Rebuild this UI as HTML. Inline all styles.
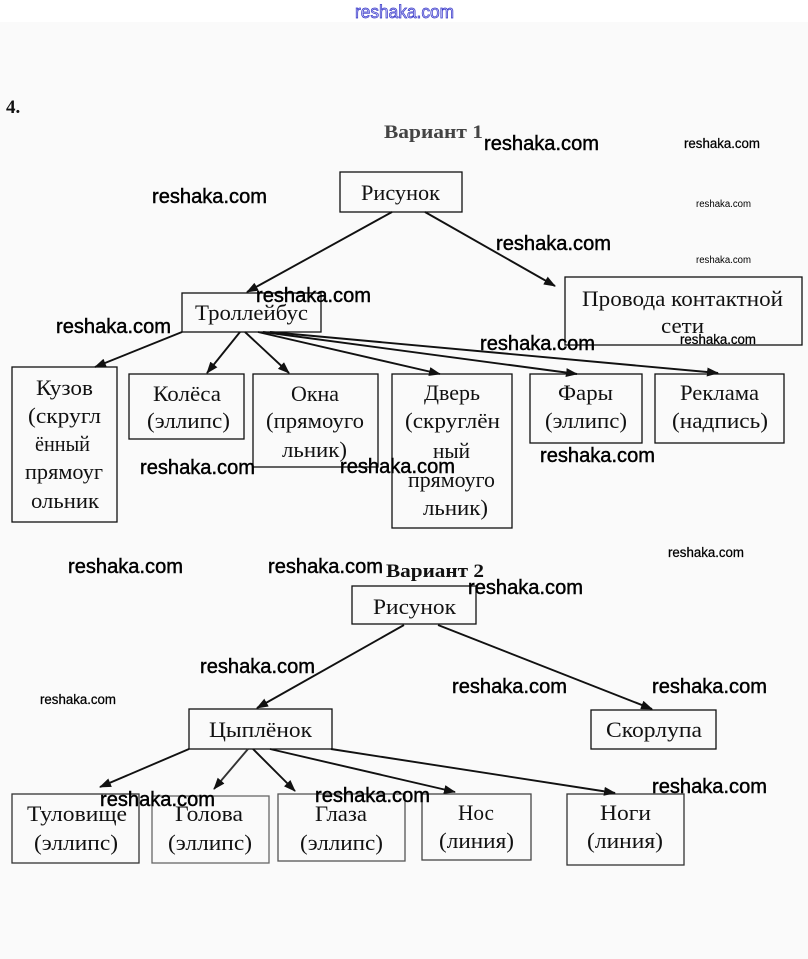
<!DOCTYPE html>
<html>
<head>
<meta charset="utf-8">
<style>
  html,body{margin:0;padding:0;background:#fafafa;}
  svg{display:block;}
  .s{font-family:"Liberation Serif","DejaVu Serif",serif;font-size:22.5px;fill:#111;}
  .w{font-family:"Liberation Sans","DejaVu Sans",sans-serif;font-size:20.5px;fill:#000;stroke:#000;stroke-width:0.45;}
  .ws{font-family:"Liberation Sans","DejaVu Sans",sans-serif;font-size:13.5px;fill:#000;stroke:#000;stroke-width:0.25;}
  .wt{font-family:"Liberation Sans","DejaVu Sans",sans-serif;font-size:10px;fill:#000;}
  .b{fill:none;stroke:#111;stroke-width:1.3;}
  .l{stroke:#111;stroke-width:1.9;fill:none;}
</style>
</head>
<body>
<svg width="808" height="959" viewBox="0 0 808 959" xmlns="http://www.w3.org/2000/svg">
  <defs>
    <marker id="a" markerWidth="12" markerHeight="9" refX="11" refY="4.5" orient="auto" markerUnits="userSpaceOnUse">
      <path d="M0,0 L12,4.5 L0,9 z" fill="#111"/>
    </marker>
  </defs>
  <rect width="808" height="959" fill="#fafafa"/>
  <rect width="808" height="22" fill="#ffffff"/>

  <!-- top blue watermark -->
  <text x="355" y="18" font-family="Liberation Sans, sans-serif" font-size="18" textLength="99" lengthAdjust="spacingAndGlyphs" fill="#c8c8f4" stroke="#3434c8" stroke-width="0.7">reshaka.com</text>

  <text x="6" y="113" font-family="Liberation Serif, serif" font-weight="bold" font-size="19" fill="#111">4.</text>

  <!-- Variant titles -->
  <text x="384" y="138" font-family="Liberation Serif, serif" font-weight="bold" font-size="19" textLength="99" lengthAdjust="spacingAndGlyphs" fill="#444">Вариант 1</text>
  <text x="386" y="577" font-family="Liberation Serif, serif" font-weight="bold" font-size="19" textLength="98" lengthAdjust="spacingAndGlyphs" fill="#111">Вариант 2</text>

  <!-- ===== Variant 1 boxes ===== -->
  <rect class="b" x="340" y="172" width="122" height="40"/>
  <rect class="b" x="182" y="293" width="139" height="39"/>
  <rect class="b" x="565" y="277" width="237" height="68"/>
  <rect class="b" x="12" y="367" width="105" height="155"/>
  <rect class="b" x="129" y="374" width="115" height="65"/>
  <rect class="b" x="253" y="374" width="125" height="93"/>
  <rect class="b" x="392" y="374" width="120" height="154"/>
  <rect class="b" x="530" y="374" width="112" height="69"/>
  <rect class="b" x="655" y="374" width="129" height="69"/>

  <!-- Variant 1 arrows -->
  <line class="l" x1="392" y1="212" x2="247" y2="292" marker-end="url(#a)"/>
  <line class="l" x1="425" y1="212" x2="555" y2="286" marker-end="url(#a)"/>
  <line class="l" x1="182" y1="332" x2="95" y2="367" marker-end="url(#a)"/>
  <line class="l" x1="240" y1="332" x2="207" y2="373" marker-end="url(#a)"/>
  <line class="l" x1="245" y1="332" x2="289" y2="373" marker-end="url(#a)"/>
  <line class="l" x1="258" y1="332" x2="440" y2="374" marker-end="url(#a)"/>
  <line class="l" x1="263" y1="332" x2="577" y2="374" marker-end="url(#a)"/>
  <line class="l" x1="270" y1="332" x2="718" y2="373" marker-end="url(#a)"/>

  <!-- Variant 1 texts -->
  <text class="s" x="361" y="200" textLength="79" lengthAdjust="spacingAndGlyphs" fill="#333">Рисунок</text>
  <text class="s" x="195" y="320" textLength="113" lengthAdjust="spacingAndGlyphs">Троллейбус</text>
  <text class="s" x="582" y="306" textLength="201" lengthAdjust="spacingAndGlyphs">Провода контактной</text>
  <text class="s" x="661" y="333" textLength="43" lengthAdjust="spacingAndGlyphs">сети</text>

  <text class="s" x="36" y="395" textLength="57" lengthAdjust="spacingAndGlyphs" fill="#333">Кузов</text>
  <text class="s" x="28" y="423" textLength="73" lengthAdjust="spacingAndGlyphs" fill="#333">(скругл</text>
  <text class="s" x="35" y="451" textLength="55" lengthAdjust="spacingAndGlyphs" fill="#555">ённый</text>
  <text class="s" x="25" y="479" textLength="78" lengthAdjust="spacingAndGlyphs" fill="#444">прямоуг</text>
  <text class="s" x="31" y="508" textLength="68" lengthAdjust="spacingAndGlyphs" fill="#333">ольник</text>

  <text class="s" x="153" y="401" textLength="68" lengthAdjust="spacingAndGlyphs">Колёса</text>
  <text class="s" x="147" y="428" textLength="83" lengthAdjust="spacingAndGlyphs">(эллипс)</text>

  <text class="s" x="291" y="401" textLength="48" lengthAdjust="spacingAndGlyphs" fill="#333">Окна</text>
  <text class="s" x="266" y="428" textLength="98" lengthAdjust="spacingAndGlyphs" fill="#444">(прямоуго</text>
  <text class="s" x="282" y="457" textLength="65" lengthAdjust="spacingAndGlyphs" fill="#888">льник)</text>

  <text class="s" x="424" y="400" textLength="56" lengthAdjust="spacingAndGlyphs" fill="#333">Дверь</text>
  <text class="s" x="405" y="428" textLength="95" lengthAdjust="spacingAndGlyphs" fill="#333">(скруглён</text>
  <text class="s" x="433" y="458" textLength="37" lengthAdjust="spacingAndGlyphs" fill="#666">ный</text>
  <text class="s" x="408" y="487" textLength="87" lengthAdjust="spacingAndGlyphs" fill="#666">прямоуго</text>
  <text class="s" x="423" y="515" textLength="65" lengthAdjust="spacingAndGlyphs" fill="#666">льник)</text>

  <text class="s" x="558" y="400" textLength="55" lengthAdjust="spacingAndGlyphs" fill="#333">Фары</text>
  <text class="s" x="545" y="428" textLength="82" lengthAdjust="spacingAndGlyphs" fill="#444">(эллипс)</text>

  <text class="s" x="680" y="400" textLength="79" lengthAdjust="spacingAndGlyphs" fill="#333">Реклама</text>
  <text class="s" x="672" y="428" textLength="96" lengthAdjust="spacingAndGlyphs" fill="#333">(надпись)</text>

  <!-- ===== Variant 2 boxes ===== -->
  <rect class="b" x="352" y="586" width="124" height="38"/>
  <rect class="b" x="189" y="709" width="143" height="40"/>
  <rect class="b" x="591" y="710" width="125" height="39"/>
  <rect class="b" x="12" y="794" width="127" height="69" style="stroke:#333"/>
  <rect class="b" x="152" y="796" width="117" height="67" style="stroke:#666"/>
  <rect class="b" x="278" y="794" width="127" height="67" style="stroke:#555"/>
  <rect class="b" x="422" y="794" width="109" height="66" style="stroke:#444"/>
  <rect class="b" x="567" y="794" width="117" height="71" style="stroke:#333"/>

  <!-- Variant 2 arrows -->
  <line class="l" x1="404" y1="625" x2="257" y2="708" marker-end="url(#a)"/>
  <line class="l" x1="438" y1="625" x2="652" y2="709" marker-end="url(#a)"/>
  <line class="l" x1="189" y1="749" x2="100" y2="787" marker-end="url(#a)"/>
  <line class="l" x1="248" y1="749" x2="214" y2="789" marker-end="url(#a)" style="stroke:#333"/>
  <line class="l" x1="253" y1="749" x2="295" y2="791" marker-end="url(#a)"/>
  <line class="l" x1="270" y1="749" x2="455" y2="792" marker-end="url(#a)"/>
  <line class="l" x1="331" y1="749" x2="615" y2="793" marker-end="url(#a)"/>

  <!-- Variant 2 texts -->
  <text class="s" x="373" y="614" textLength="83" lengthAdjust="spacingAndGlyphs">Рисунок</text>
  <text class="s" x="209" y="737" textLength="103" lengthAdjust="spacingAndGlyphs">Цыплёнок</text>
  <text class="s" x="606" y="737" textLength="96" lengthAdjust="spacingAndGlyphs">Скорлупа</text>

  <text class="s" x="27" y="821" textLength="100" lengthAdjust="spacingAndGlyphs" fill="#333">Туловище</text>
  <text class="s" x="34" y="850" textLength="84" lengthAdjust="spacingAndGlyphs" fill="#444">(эллипс)</text>
  <text class="s" x="175" y="821" textLength="68" lengthAdjust="spacingAndGlyphs" fill="#777">Голова</text>
  <text class="s" x="168" y="850" textLength="84" lengthAdjust="spacingAndGlyphs" fill="#777">(эллипс)</text>
  <text class="s" x="315" y="821" textLength="52" lengthAdjust="spacingAndGlyphs" fill="#888">Глаза</text>
  <text class="s" x="300" y="850" textLength="83" lengthAdjust="spacingAndGlyphs" fill="#555">(эллипс)</text>
  <text class="s" x="458" y="820" textLength="36" lengthAdjust="spacingAndGlyphs" fill="#333">Нос</text>
  <text class="s" x="439" y="848" textLength="75" lengthAdjust="spacingAndGlyphs" fill="#666">(линия)</text>
  <text class="s" x="600" y="820" textLength="51" lengthAdjust="spacingAndGlyphs" fill="#333">Ноги</text>
  <text class="s" x="587" y="848" textLength="76" lengthAdjust="spacingAndGlyphs" fill="#777">(линия)</text>

  <!-- ===== watermarks ===== -->
  <text class="w" x="484" y="150" textLength="115" lengthAdjust="spacingAndGlyphs">reshaka.com</text>
  <text class="ws" x="684" y="148" textLength="76" lengthAdjust="spacingAndGlyphs">reshaka.com</text>
  <text class="w" x="152" y="203" textLength="115" lengthAdjust="spacingAndGlyphs">reshaka.com</text>
  <text class="wt" x="696" y="207" textLength="55" lengthAdjust="spacingAndGlyphs">reshaka.com</text>
  <text class="w" x="496" y="250" textLength="115" lengthAdjust="spacingAndGlyphs">reshaka.com</text>
  <text class="wt" x="696" y="263" textLength="55" lengthAdjust="spacingAndGlyphs">reshaka.com</text>
  <text class="w" x="256" y="302" textLength="115" lengthAdjust="spacingAndGlyphs">reshaka.com</text>
  <text class="w" x="56" y="333" textLength="115" lengthAdjust="spacingAndGlyphs">reshaka.com</text>
  <text class="w" x="480" y="350" textLength="115" lengthAdjust="spacingAndGlyphs">reshaka.com</text>
  <text class="ws" x="680" y="344" textLength="76" lengthAdjust="spacingAndGlyphs">reshaka.com</text>
  <text class="w" x="140" y="474" textLength="115" lengthAdjust="spacingAndGlyphs">reshaka.com</text>
  <text class="w" x="340" y="473" textLength="115" lengthAdjust="spacingAndGlyphs">reshaka.com</text>
  <text class="w" x="540" y="462" textLength="115" lengthAdjust="spacingAndGlyphs">reshaka.com</text>
  <text class="ws" x="668" y="557" textLength="76" lengthAdjust="spacingAndGlyphs">reshaka.com</text>
  <text class="w" x="68" y="573" textLength="115" lengthAdjust="spacingAndGlyphs">reshaka.com</text>
  <text class="w" x="268" y="573" textLength="115" lengthAdjust="spacingAndGlyphs">reshaka.com</text>
  <text class="w" x="468" y="594" textLength="115" lengthAdjust="spacingAndGlyphs">reshaka.com</text>
  <text class="w" x="200" y="673" textLength="115" lengthAdjust="spacingAndGlyphs">reshaka.com</text>
  <text class="ws" x="40" y="704" textLength="76" lengthAdjust="spacingAndGlyphs">reshaka.com</text>
  <text class="w" x="452" y="693" textLength="115" lengthAdjust="spacingAndGlyphs">reshaka.com</text>
  <text class="w" x="652" y="693" textLength="115" lengthAdjust="spacingAndGlyphs">reshaka.com</text>
  <text class="w" x="652" y="793" textLength="115" lengthAdjust="spacingAndGlyphs">reshaka.com</text>
  <text class="w" x="100" y="806" textLength="115" lengthAdjust="spacingAndGlyphs">reshaka.com</text>
  <text class="w" x="315" y="802" textLength="115" lengthAdjust="spacingAndGlyphs">reshaka.com</text>
</svg>
</body>
</html>
